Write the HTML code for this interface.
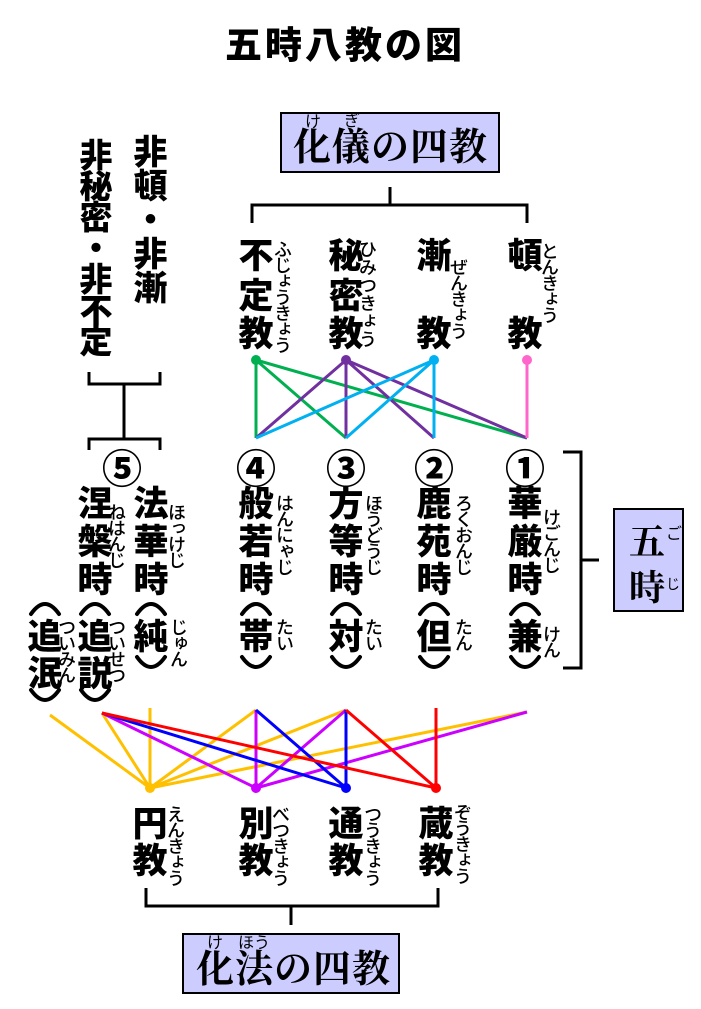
<!DOCTYPE html>
<html><head><meta charset="utf-8"><style>
body{margin:0;width:701px;height:1009px;background:#fff;position:relative;overflow:hidden;font-family:"Liberation Sans","Noto Sans CJK JP",sans-serif}
.c{position:absolute;font-weight:900;font-size:35px;line-height:34px;width:36px;text-align:center;font-family:"Noto Sans CJK JP",sans-serif;color:#000}
.n{position:absolute;font-weight:900;font-size:40px;line-height:40px;width:44px;text-align:center;font-family:"Noto Sans CJK JP",sans-serif}
.r{position:absolute;writing-mode:vertical-rl;font-size:18px;line-height:18px;width:18px;letter-spacing:-2px;font-family:"Noto Sans CJK JP",sans-serif;font-weight:500;color:#000}
.v{position:absolute;writing-mode:vertical-rl;font-weight:900;font-size:34px;line-height:36px;font-family:"Noto Sans CJK JP",sans-serif}
.box{position:absolute;background:#ccccff;border:2px solid #000;box-sizing:border-box}
.s{position:absolute;font-family:"Noto Serif CJK SC","Liberation Serif",serif;font-weight:bold;font-size:38px;line-height:38px;color:#000}
.sr{position:absolute;font-size:16px;line-height:16px;font-family:"Noto Sans CJK JP",sans-serif}
svg{position:absolute;left:0;top:0}
</style></head><body>
<svg width="701" height="1009">
<g fill="none" stroke="#000" stroke-width="3">
<path d="M252 223 V205 H527 V223 M390 205 V187"/>
<path d="M89 372 V384 H160 V372 M124 384 V439 M89 450 V439 H160 V450"/>
<path d="M563 452 H581 V668 H563 M581 560 H599"/>
<path d="M146 888 V906 H438 V888 M291 906 V925"/>
</g>
<g fill="none" stroke="#000" stroke-width="4" stroke-linecap="round">
<path d="M31 614 Q45 594 59 614 M31 690 Q45 710 59 690"/>
<path d="M81 614 Q95 594 109 614 M81 690 Q95 710 109 690"/>
<path d="M137 614 Q151 594 165 614 M137 657 Q151 677 165 657"/>
<path d="M242 614 Q256 594 270 614 M242 657 Q256 677 270 657"/>
<path d="M332 614 Q346 594 360 614 M332 657 Q346 677 360 657"/>
<path d="M420 614 Q434 594 448 614 M420 657 Q434 677 448 657"/>
<path d="M511 614 Q525 594 539 614 M511 657 Q525 677 539 657"/>
</g>
<g stroke-width="3" fill="none">
<g stroke="#00b050"><path d="M256 360 L256 438 M256 360 L346 438 M256 360 L527 438"/></g>
<g stroke="#7030a0"><path d="M346 360 L256 438 M346 360 L346 438 M346 360 L434 438 M346 360 L527 438"/></g>
<g stroke="#00b0f0"><path d="M434 360 L434 438 M434 360 L256 438 M434 360 L346 438"/></g>
<g stroke="#ff66cc"><path d="M527 360 L527 438"/></g>
<g stroke="#ffc000"><path d="M150 788 L50 715 M150 788 L102 713 M150 788 L150 708 M150 788 L256 710 M150 788 L346 710 M150 788 L527 712"/></g>
<g stroke="#cc00ff"><path d="M256 788 L102 713 M256 788 L256 710 M256 788 L346 710 M256 788 L527 712"/></g>
<g stroke="#0000ff"><path d="M346 788 L102 713 M346 788 L256 710 M346 788 L346 710"/></g>
<g stroke="#ff0000"><path d="M436 788 L102 713 M436 788 L346 710 M436 788 L436 708"/></g>
</g>
<circle cx="256" cy="360" r="5" fill="#00b050"/>
<circle cx="346" cy="360" r="5" fill="#7030a0"/>
<circle cx="434" cy="360" r="5" fill="#00b0f0"/>
<circle cx="527" cy="360" r="5" fill="#ff66cc"/>
<circle cx="150" cy="788" r="5" fill="#ffc000"/>
<circle cx="256" cy="788" r="5" fill="#cc00ff"/>
<circle cx="346" cy="788" r="5" fill="#0000ff"/>
<circle cx="436" cy="788" r="5" fill="#ff0000"/>
</svg>

<div style="position:absolute;left:205px;top:20px;width:280px;text-align:center;font-weight:900;font-size:37px;line-height:44px;letter-spacing:3px;font-family:'Noto Sans CJK JP',sans-serif">五時八教の図</div>

<div class="box" style="left:280px;top:112px;width:220px;height:61px"></div>
<div class="s" style="left:293px;top:125px;letter-spacing:1px">化儀の四教</div>
<div class="sr" style="left:305px;top:112px">け</div>
<div class="sr" style="left:344px;top:111px">ぎ</div>

<div class="v" style="left:132px;top:134px;line-height:36px">非頓・非漸</div>
<div class="v" style="left:78px;top:138px;font-size:33px;line-height:36px;letter-spacing:-2px">非秘密・非不定</div>

<!-- top row -->
<div class="c" style="left:238px;top:237px">不</div><div class="c" style="left:238px;top:277px">定</div><div class="c" style="left:238px;top:315px">教</div>
<div class="r" style="left:274px;top:240px">ふじょうきょう</div>
<div class="c" style="left:328px;top:237px">秘</div><div class="c" style="left:328px;top:277px">密</div><div class="c" style="left:328px;top:315px">教</div>
<div class="r" style="left:359px;top:240px;letter-spacing:0">ひみつきょう</div>
<div class="c" style="left:416px;top:237px">漸</div><div class="c" style="left:416px;top:315px">教</div>
<div class="r" style="left:450px;top:258px">ぜんきょう</div>
<div class="c" style="left:507px;top:237px">頓</div><div class="c" style="left:507px;top:315px">教</div>
<div class="r" style="left:541px;top:242px">とんきょう</div>

<!-- middle row -->
<div class="n" style="left:100px;top:446px">⑤</div>
<div class="n" style="left:234px;top:446px">④</div>
<div class="n" style="left:324px;top:446px">③</div>
<div class="n" style="left:412px;top:446px">②</div>
<div class="n" style="left:503px;top:446px">①</div>

<div class="c" style="left:133px;top:485px">法</div><div class="c" style="left:133px;top:523px">華</div><div class="c" style="left:133px;top:561px">時</div>
<div class="r" style="left:168px;top:503px">ほっけじ</div>
<div class="c" style="left:133px;top:618px">純</div>
<div class="r" style="left:170px;top:618px">じゅん</div>

<div class="c" style="left:77px;top:485px">涅</div><div class="c" style="left:77px;top:523px">槃</div><div class="c" style="left:77px;top:561px">時</div>
<div class="r" style="left:108px;top:503px">ねはんじ</div>
<div class="c" style="left:77px;top:618px">追</div><div class="c" style="left:77px;top:655px">説</div>
<div class="r" style="left:108px;top:618px">ついせつ</div>

<div class="c" style="left:27px;top:618px">追</div><div class="c" style="left:27px;top:655px">泯</div>
<div class="r" style="left:58px;top:618px">ついみん</div>

<div class="c" style="left:238px;top:485px">般</div><div class="c" style="left:238px;top:523px">若</div><div class="c" style="left:238px;top:561px">時</div>
<div class="r" style="left:276px;top:494px">はんにゃじ</div>
<div class="c" style="left:238px;top:618px">帯</div>
<div class="r" style="left:276px;top:618px">たい</div>

<div class="c" style="left:328px;top:485px">方</div><div class="c" style="left:328px;top:523px">等</div><div class="c" style="left:328px;top:561px">時</div>
<div class="r" style="left:365px;top:494px">ほうどうじ</div>
<div class="c" style="left:328px;top:618px">対</div>
<div class="r" style="left:365px;top:618px">たい</div>

<div class="c" style="left:416px;top:485px">鹿</div><div class="c" style="left:416px;top:523px">苑</div><div class="c" style="left:416px;top:561px">時</div>
<div class="r" style="left:455px;top:494px">ろくおんじ</div>
<div class="c" style="left:416px;top:618px">但</div>
<div class="r" style="left:455px;top:618px">たん</div>

<div class="c" style="left:507px;top:485px">華</div><div class="c" style="left:507px;top:523px">厳</div><div class="c" style="left:507px;top:561px">時</div>
<div class="r" style="left:543px;top:508px">けごんじ</div>
<div class="c" style="left:507px;top:618px">兼</div>
<div class="r" style="left:543px;top:625px">けん</div>

<div class="box" style="left:613px;top:508px;width:71px;height:104px"></div>
<div class="s" style="left:629px;top:521px;font-size:36px">五</div>
<div class="s" style="left:629px;top:567px;font-size:36px">時</div>
<div class="sr" style="left:666px;top:524px">ご</div>
<div class="sr" style="left:666px;top:576px;font-size:14px">じ</div>

<!-- bottom row -->
<div class="c" style="left:132px;top:805px">円</div><div class="c" style="left:132px;top:842px">教</div>
<div class="r" style="left:167px;top:805px">えんきょう</div>
<div class="c" style="left:238px;top:805px">別</div><div class="c" style="left:238px;top:842px">教</div>
<div class="r" style="left:272px;top:805px">べつきょう</div>
<div class="c" style="left:328px;top:805px">通</div><div class="c" style="left:328px;top:842px">教</div>
<div class="r" style="left:364px;top:805px">つうきょう</div>
<div class="c" style="left:418px;top:805px">蔵</div><div class="c" style="left:418px;top:842px">教</div>
<div class="r" style="left:454px;top:803px">ぞうきょう</div>

<div class="box" style="left:182px;top:933px;width:218px;height:61px"></div>
<div class="s" style="left:196px;top:947px;letter-spacing:1px">化法の四教</div>
<div class="sr" style="left:207px;top:933px">け</div>
<div class="sr" style="left:238px;top:933px">ほう</div>
</body></html>
